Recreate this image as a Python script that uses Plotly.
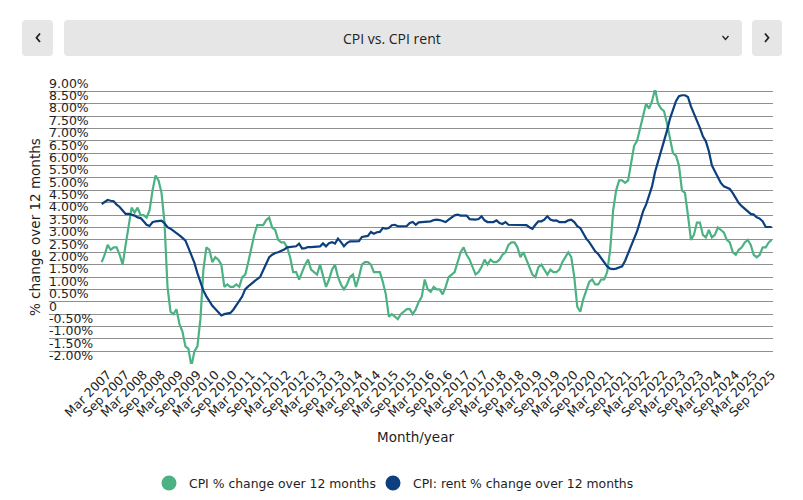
import plotly.graph_objects as go

# ---------------- data ----------------
MONTH_NAMES = ["Jan", "Feb", "Mar", "Apr", "May", "Jun",
               "Jul", "Aug", "Sep", "Oct", "Nov", "Dec"]
months = [f"{m} {y}" for y in range(2007, 2026) for m in MONTH_NAMES][:225]

cpi = [
    2.1, 2.4, 2.8, 2.6, 2.7, 2.7, 2.4, 2.0, 2.8, 3.5, 4.3, 4.1,      # 2007
    4.3, 4.0, 4.0, 3.9, 4.2, 5.0, 5.6, 5.4, 4.9, 3.7, 1.1, 0.1,      # 2008
    0.0, 0.2, -0.4, -0.7, -1.3, -1.4, -2.1, -1.5, -1.3, -0.2, 1.8, 2.7,  # 2009
    2.6, 2.1, 2.3, 2.2, 2.0, 1.1, 1.2, 1.1, 1.1, 1.2, 1.1, 1.5,      # 2010
    1.6, 2.1, 2.7, 3.2, 3.6, 3.6, 3.6, 3.8, 3.9, 3.5, 3.4, 3.0,      # 2011
    2.9, 2.9, 2.7, 2.3, 1.7, 1.7, 1.4, 1.7, 2.0, 2.2, 1.8, 1.7,      # 2012
    1.6, 2.0, 1.5, 1.1, 1.4, 1.8, 2.0, 1.5, 1.2, 1.0, 1.2, 1.5,      # 2013
    1.6, 1.1, 1.5, 2.0, 2.1, 2.1, 2.0, 1.7, 1.7, 1.7, 1.3, 0.8,      # 2014
    -0.1, 0.0, -0.1, -0.2, 0.0, 0.1, 0.2, 0.2, 0.0, 0.2, 0.5, 0.7,   # 2015
    1.4, 1.0, 0.9, 1.1, 1.0, 1.0, 0.8, 1.1, 1.5, 1.6, 1.7, 2.1,      # 2016
    2.5, 2.7, 2.4, 2.2, 1.9, 1.6, 1.7, 1.9, 2.2, 2.0, 2.2, 2.1,      # 2017
    2.1, 2.2, 2.4, 2.5, 2.8, 2.9, 2.9, 2.7, 2.3, 2.5, 2.2, 1.9,      # 2018
    1.6, 1.5, 1.9, 2.0, 1.8, 1.6, 1.8, 1.7, 1.7, 1.8, 2.1, 2.3,      # 2019
    2.5, 2.3, 1.5, 0.3, 0.1, 0.6, 1.0, 1.3, 1.4, 1.2, 1.2, 1.4,      # 2020
    1.4, 1.7, 2.6, 4.2, 5.0, 5.4, 5.4, 5.3, 5.4, 6.2, 6.8, 7.0,      # 2021
    7.5, 7.9, 8.5, 8.3, 8.6, 9.1, 8.5, 8.3, 8.2, 7.7, 7.1, 6.5,      # 2022
    6.4, 6.0, 5.0, 4.9, 4.0, 3.0, 3.2, 3.7, 3.7, 3.2, 3.1, 3.4,      # 2023
    3.1, 3.2, 3.5, 3.4, 3.3, 3.0, 2.9, 2.5, 2.4, 2.6, 2.7, 2.9,      # 2024
    3.0, 2.8, 2.4, 2.3, 2.4, 2.7, 2.7, 2.9, 3.0,                     # 2025
]

rent = [
    4.45, 4.53, 4.61, 4.58, 4.56, 4.42, 4.33, 4.19, 4.05, 4.05, 4.02, 3.98,   # 2007
    3.91, 3.88, 3.75, 3.61, 3.56, 3.71, 3.75, 3.78, 3.78, 3.67, 3.51, 3.45,   # 2008
    3.37, 3.28, 3.18, 3.08, 2.97, 2.68, 2.41, 2.07, 1.66, 1.26, 0.95, 0.72,   # 2009
    0.52, 0.34, 0.21, 0.07, -0.05, 0.00, 0.02, 0.05, 0.18, 0.34, 0.54, 0.72,  # 2010
    1.01, 1.12, 1.23, 1.32, 1.42, 1.51, 1.76, 2.00, 2.30, 2.40, 2.47, 2.50,   # 2011
    2.54, 2.61, 2.70, 2.71, 2.74, 2.74, 2.85, 2.65, 2.67, 2.71, 2.71, 2.71,   # 2012
    2.73, 2.74, 2.86, 2.74, 2.87, 2.91, 2.85, 3.05, 2.91, 2.74, 2.87, 2.94,   # 2013
    2.94, 2.94, 2.95, 3.12, 3.13, 3.16, 3.32, 3.25, 3.31, 3.32, 3.48, 3.45,   # 2014
    3.48, 3.59, 3.61, 3.55, 3.55, 3.55, 3.56, 3.68, 3.72, 3.61, 3.71, 3.72,   # 2015
    3.72, 3.72, 3.75, 3.80, 3.82, 3.80, 3.75, 3.72, 3.82, 3.91, 3.99, 4.02,   # 2016
    3.98, 3.98, 3.98, 3.84, 3.82, 3.82, 3.84, 3.95, 3.79, 3.72, 3.72, 3.72,   # 2017
    3.79, 3.68, 3.64, 3.72, 3.61, 3.61, 3.61, 3.61, 3.61, 3.61, 3.60, 3.51,   # 2018
    3.45, 3.61, 3.75, 3.75, 3.82, 3.95, 3.82, 3.78, 3.79, 3.72, 3.72, 3.72,   # 2019
    3.79, 3.82, 3.72, 3.55, 3.48, 3.24, 3.05, 2.91, 2.74, 2.54, 2.43, 2.25,   # 2020
    2.09, 1.93, 1.84, 1.82, 1.84, 1.89, 1.93, 2.16, 2.47, 2.74, 3.08, 3.35,   # 2021
    3.75, 4.15, 4.42, 4.76, 5.16, 5.74, 6.15, 6.58, 6.98, 7.41, 7.90, 8.30,   # 2022
    8.60, 8.80, 8.84, 8.84, 8.77, 8.39, 8.12, 7.86, 7.52, 7.18, 6.98, 6.58,   # 2023
    6.01, 5.77, 5.50, 5.30, 5.16, 5.12, 5.06, 4.89, 4.69, 4.49, 4.36, 4.26,   # 2024
    4.15, 4.05, 4.02, 3.91, 3.86, 3.75, 3.52, 3.52, 3.52,                     # 2025
]

tick_labels = [m for m in months if m[:3] in ("Mar", "Sep")]
y_tickvals = [-2.0, -1.5, -1.0, -0.5, 0.0, 0.5, 1.0, 1.5, 2.0, 2.5, 3.0, 3.5,
              4.0, 4.5, 5.0, 5.5, 6.0, 6.5, 7.0, 7.5, 8.0, 8.5, 9.0]
y_ticktext = ["-2.00%", "-1.50%", "-1.00%", "-0.50%", "0", "0.50%", "1.00%",
              "1.50%", "2.00%", "2.50%", "3.00%", "3.50%", "4.00%", "4.50%",
              "5.00%", "5.50%", "6.00%", "6.50%", "7.00%", "7.50%", "8.00%",
              "8.50%", "9.00%"]

series_names = ["CPI % change over 12 months", "CPI: rent % change over 12 months"]
GREEN = "#4cb284"
BLUE = "#0b3f7e"
FONT = "DejaVu Sans"
TXT = "#1e1e1e"

# ---------------- layout geometry ----------------
# The page body adds an 8px offset, so the figure is 8px smaller and all
# page-pixel positions below are measured in the 803x500 window.
OFF = 8
W, H = 803 - OFF, 500 - OFF
PLOT_X0, PLOT_X1, PLOT_Y0, PLOT_Y1 = 49, 773, 90, 364     # page pixels
PW, PH = PLOT_X1 - PLOT_X0, PLOT_Y1 - PLOT_Y0
L, T = PLOT_X0 - OFF, PLOT_Y0 - OFF
R, B = W - (PLOT_X1 - OFF), H - (PLOT_Y1 - OFF)


def px(x):
    return (x - PLOT_X0) / PW


def py(y):
    return (PLOT_Y1 - y) / PH


def rounded_rect(x0, y0, x1, y1, r):
    pts = [
        ("M", [(x0 + r, y0)]),
        ("L", [(x1 - r, y0)]),
        ("Q", [(x1, y0), (x1, y0 + r)]),
        ("L", [(x1, y1 - r)]),
        ("Q", [(x1, y1), (x1 - r, y1)]),
        ("L", [(x0 + r, y1)]),
        ("Q", [(x0, y1), (x0, y1 - r)]),
        ("L", [(x0, y0 + r)]),
        ("Q", [(x0, y0), (x0 + r, y0)]),
    ]
    s = ""
    for cmd, ps in pts:
        s += cmd + " " + " ".join(f"{px(a):.5f},{py(b):.5f}" for a, b in ps) + " "
    return s + "Z"


def polyline(points):
    return "M " + " L ".join(f"{px(a):.5f},{py(b):.5f}" for a, b in points)


fig = go.Figure()
fig.add_trace(go.Scatter(x=months, y=cpi, mode="lines", name=series_names[0],
                         line=dict(color=GREEN, width=2.2), showlegend=False))
fig.add_trace(go.Scatter(x=months, y=rent, mode="lines", name=series_names[1],
                         line=dict(color=BLUE, width=2.2), showlegend=False))

shapes = []
HEAD_BG = "#e6e6e6"
for (x0, x1) in [(22, 53), (64, 742), (752, 782)]:
    shapes.append(dict(type="path", xref="paper", yref="paper",
                       path=rounded_rect(x0, 20, x1, 56, 4),
                       fillcolor=HEAD_BG, line=dict(width=0), layer="below"))
# chevrons
shapes.append(dict(type="path", xref="paper", yref="paper",
                   path=polyline([(40, 33.5), (36.5, 37.8), (40, 42)]),
                   line=dict(color="#222222", width=1.8)))
shapes.append(dict(type="path", xref="paper", yref="paper",
                   path=polyline([(765, 33.5), (768.5, 37.8), (765, 42)]),
                   line=dict(color="#222222", width=1.8)))
shapes.append(dict(type="path", xref="paper", yref="paper",
                   path=polyline([(722.5, 36), (725.5, 39.5), (728.5, 36)]),
                   line=dict(color="#222222", width=1.3)))
# legend dots
for cx, col in [(169, GREEN), (393, BLUE)]:
    shapes.append(dict(type="circle", xref="paper", yref="paper",
                       x0=px(cx - 7.5), x1=px(cx + 7.5),
                       y0=py(483 + 7.5), y1=py(483 - 7.5),
                       fillcolor=col, line=dict(width=0)))

annotations = [
    dict(text="CPI vs. CPI rent", x=px(392), y=py(38), xref="paper", yref="paper",
         showarrow=False, xanchor="center", yanchor="middle",
         font=dict(family="Open Sans", size=14, color="#222222")),
    dict(text="% change over 12 months", x=px(35), y=py(227), xref="paper",
         yref="paper", showarrow=False, textangle=-90, xanchor="center",
         yanchor="middle", font=dict(family=FONT, size=13.5, color=TXT)),
    dict(text="Month/year", x=px(416), y=py(437), xref="paper", yref="paper",
         showarrow=False, xanchor="center", yanchor="middle",
         font=dict(family=FONT, size=13.5, color=TXT)),
    dict(text=series_names[0], x=px(187), y=py(483), xref="paper", yref="paper",
         showarrow=False, xanchor="left", yanchor="middle",
         font=dict(family=FONT, size=12.4, color=TXT)),
    dict(text=series_names[1], x=px(411), y=py(483), xref="paper", yref="paper",
         showarrow=False, xanchor="left", yanchor="middle",
         font=dict(family=FONT, size=12.4, color=TXT)),
]

fig.update_layout(
    width=W, height=H,
    margin=dict(l=L, r=R, t=T, b=B, pad=0),
    paper_bgcolor="white", plot_bgcolor="white",
    showlegend=False,
    shapes=shapes, annotations=annotations,
    xaxis=dict(type="category", range=[-17.62, 224.44],
               tickmode="array", tickvals=tick_labels, ticktext=tick_labels,
               tickangle=-45, showgrid=False, zeroline=False, showline=False,
               ticks="", tickfont=dict(family=FONT, size=12.5, color=TXT)),
    yaxis=dict(range=[-2.012, 9.0525], tickmode="array", tickvals=y_tickvals,
               ticktext=y_ticktext, showgrid=True, gridcolor="#8f8f8f",
               gridwidth=1, zeroline=False, showline=False, ticks="",
               ticklabelposition="inside", ticklabelshift=-8,
               ticklabelstandoff=-3, ticklabeloverflow="allow",
               tickfont=dict(family=FONT, size=12.5, color=TXT)),
)

fig.write_html("out.html")
